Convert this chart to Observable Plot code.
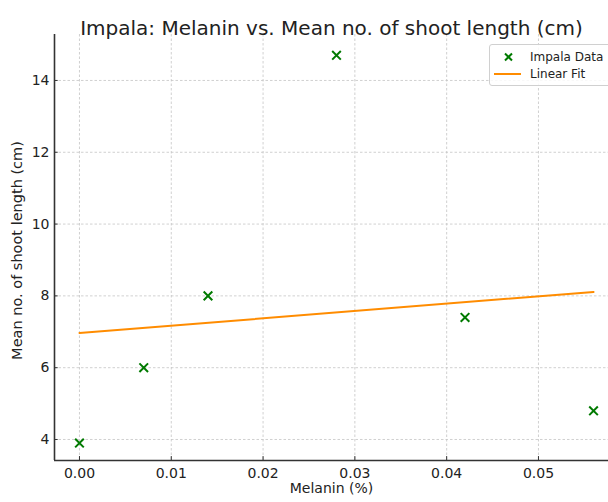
<!DOCTYPE html>
<html>
<head>
<meta charset="utf-8">
<script src="https://cdn.jsdelivr.net/npm/d3@7"></script>
<script src="https://cdn.jsdelivr.net/npm/@observablehq/plot@0.6"></script>
<style>
  html, body { margin: 0; padding: 0; background: #fff; }
  #wrap { position: relative; width: 608px; height: 502px; font-family: "DejaVu Sans", sans-serif; }
  #legend { position: absolute; left: 489px; top: 44px; width: 130px; height: 40px; border: 1px solid #d0d0d0; border-radius: 3px; background: rgba(255,255,255,0.85); font-size: 12px; color: #222; }
  #legend .row { position: absolute; left: 0; height: 16px; display: flex; align-items: center; }
  #legend svg { width: 36px; height: 16px; }
</style>
</head>
<body>
<div id="wrap"></div>
<script>
const melanin = [0.000, 0.007, 0.014, 0.028, 0.042, 0.056];
const shootLength = [3.9, 6.0, 8.0, 14.7, 7.4, 4.8];
const xTicks = [0.00, 0.01, 0.02, 0.03, 0.04, 0.05];
const yTicks = [4, 6, 8, 10, 12, 14];
const title = "Impala: Melanin vs. Mean no. of shoot length (cm)";
const xLabel = "Melanin (%)";
const yLabel = "Mean no. of shoot length (cm)";
const seriesNames = ["Impala Data", "Linear Fit"];

const data = melanin.map((m, i) => ({ melanin: m, length: shootLength[i] }));
const xDomain = [-0.00272, 0.05763];
const yDomain = [3.415, 15.28];

const chart = Plot.plot({
  width: 608,
  height: 502,
  marginLeft: 54,
  marginRight: 0,
  marginTop: 34,
  marginBottom: 42,
  style: { fontFamily: "DejaVu Sans, sans-serif", fontSize: "14px", color: "#222", background: "#fff" },
  x: { domain: xDomain, axis: null },
  y: { domain: yDomain, axis: null },
  marks: [
    Plot.gridX(xTicks, { stroke: "#c4c4c4", strokeOpacity: 1, strokeWidth: 0.8, strokeDasharray: "2.5,2" }),
    Plot.gridY(yTicks, { stroke: "#c4c4c4", strokeOpacity: 1, strokeWidth: 0.8, strokeDasharray: "2.5,2" }),
    Plot.text(xTicks, { x: d => d, y: yDomain[0], dy: 13, text: d3.format(".2f"), fontSize: 14, fill: "#222" }),
    Plot.text(yTicks, { x: xDomain[0], y: d => d, dx: -5, textAnchor: "end", text: d => String(d), fontSize: 14, fill: "#222" }),
    Plot.ruleX(xTicks, { x: d => d, y1: yDomain[0], y2: yDomain[0] + 0.11, stroke: "#333", strokeWidth: 1 }),
    Plot.ruleY(yTicks, { y: d => d, x1: xDomain[0], x2: xDomain[0] + 0.0004, stroke: "#333", strokeWidth: 1 }),
    Plot.ruleY([yDomain[0]], { stroke: "#333", strokeWidth: 1.6 }),
    Plot.ruleX([xDomain[0]], { stroke: "#333", strokeWidth: 1.6 }),
    Plot.linearRegressionY(data, { x: "melanin", y: "length", ci: 0, stroke: "#ff8c00", strokeWidth: 2 }),
    Plot.dot(data, { x: "melanin", y: "length", symbol: "times", r: 4, stroke: "#007a00", strokeWidth: 2 }),
    Plot.text([title], { text: d => d, frameAnchor: "top", dy: -14, fontSize: 20, fill: "#222" }),
    Plot.text([xLabel], { text: d => d, frameAnchor: "bottom", dy: 32, fontSize: 14, fill: "#222" }),
    Plot.text([yLabel], { text: d => d, frameAnchor: "left", textAnchor: "middle", dx: -37, dy: 3, rotate: -90, fontSize: 14.5, fill: "#222" })
  ]
});

const wrap = document.getElementById("wrap");
wrap.appendChild(chart);

const legend = document.createElement("div");
legend.id = "legend";
legend.innerHTML = `
  <div class="row" style="top:4px;"><svg viewBox="0 0 36 16"><path d="M15,4.5 L22,11.5 M22,4.5 L15,11.5" stroke="#007a00" stroke-width="2"/></svg><span style="margin-left:4px">${seriesNames[0]}</span></div>
  <div class="row" style="top:21px;"><svg viewBox="0 0 36 16"><line x1="4" y1="8" x2="31" y2="8" stroke="#ff8c00" stroke-width="2"/></svg><span style="margin-left:4px">${seriesNames[1]}</span></div>`;
wrap.appendChild(legend);
</script>
</body>
</html>
